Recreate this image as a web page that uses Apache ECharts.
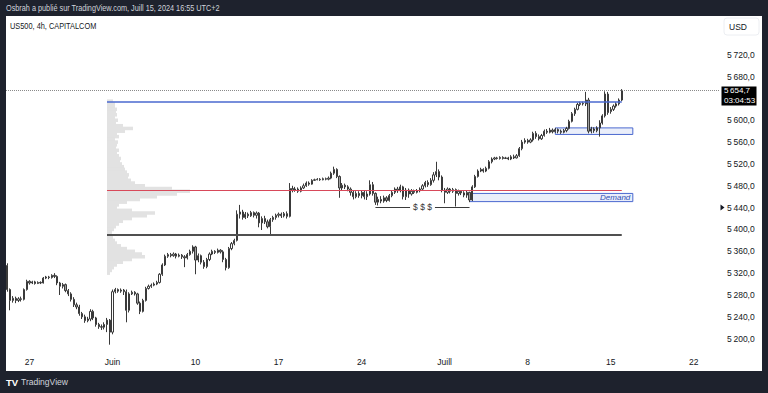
<!DOCTYPE html>
<html><head><meta charset="utf-8">
<script src="https://cdn.jsdelivr.net/npm/echarts@6/dist/echarts.min.js"></script>
<style>html,body{margin:0;padding:0;background:#1e222d;}#c{width:768px;height:393px;}</style>
</head><body><div id="c"></div>
<script>
// ---------- DATA ----------
// 4h candles, [open, close, low, high], first bar 2024-05-23 16:00
const firstBar = '2024-05-23 16:00';
const candles = [
[5334,5290,5286,5338],[5290,5270,5252,5292],[5270,5274,5266,5278],[5274,5270,5265,5277],[5270,5273,5267,5276],[5273,5272,5268,5277],[5272,5290,5270,5292],[5290,5305,5288,5308],
[5305,5302,5299,5307],[5302,5304,5300,5306],[5304,5301,5299,5306],[5301,5303,5300,5305],[5303,5302,5300,5305],[5302,5311,5301,5313],
[5311,5313,5309,5315],[5313,5312,5309,5315],[5312,5316,5310,5318],[5316,5314,5311,5320],[5314,5302,5298,5316],[5302,5296,5280,5304],
[5296,5299,5292,5302],[5299,5288,5285,5301],[5288,5282,5278,5291],[5282,5272,5268,5285],[5272,5262,5258,5276],[5262,5258,5254,5266],
[5258,5246,5242,5262],[5246,5240,5236,5249],[5240,5233,5229,5244],[5233,5236,5230,5240],[5236,5250,5232,5254],[5250,5238,5234,5253],
[5238,5226,5222,5240],[5226,5222,5218,5229],[5222,5221,5216,5226],[5221,5226,5217,5230],[5226,5234,5212,5238],[5234,5212,5189,5236],
[5212,5286,5208,5290],[5286,5290,5283,5293],[5290,5287,5284,5292],[5287,5289,5284,5292],[5289,5286,5280,5291],[5286,5252,5230,5290],
[5252,5282,5248,5285],[5282,5285,5280,5288],[5285,5282,5279,5287],[5282,5265,5262,5284],[5265,5250,5245,5268],[5250,5270,5248,5273],
[5270,5292,5268,5295],[5292,5296,5290,5299],[5296,5298,5293,5301],[5298,5300,5296,5303],[5300,5303,5298,5306],[5303,5318,5301,5320],
[5318,5335,5315,5338],[5335,5351,5333,5354],[5351,5354,5348,5357],[5354,5352,5349,5357],[5352,5355,5350,5358],[5355,5351,5347,5357],
[5351,5353,5349,5356],[5353,5350,5346,5355],[5350,5348,5331,5353],[5348,5354,5345,5357],[5354,5360,5352,5363],[5360,5368,5356,5371],
[5368,5344,5318,5370],[5344,5352,5340,5356],[5352,5340,5336,5354],[5340,5332,5328,5344],[5332,5345,5329,5348],[5345,5355,5342,5358],
[5355,5360,5353,5363],[5360,5358,5355,5362],[5358,5362,5356,5365],[5362,5359,5356,5364],[5359,5345,5340,5362],[5345,5330,5325,5348],
[5330,5365,5328,5368],[5365,5374,5362,5377],[5374,5380,5371,5383],[5380,5428,5378,5435],[5428,5432,5420,5445],[5432,5422,5418,5436],
[5422,5428,5419,5432],[5428,5425,5421,5431],[5425,5431,5423,5434],[5431,5426,5422,5433],[5426,5430,5420,5433],[5430,5412,5404,5432],
[5412,5420,5399,5424],[5420,5414,5410,5425],[5414,5405,5402,5418],[5405,5418,5391,5421],[5418,5422,5414,5425],[5422,5426,5418,5429],
[5426,5428,5422,5431],[5428,5425,5421,5431],[5425,5429,5422,5432],[5429,5424,5420,5433],[5424,5475,5422,5485],[5475,5472,5468,5480],
[5472,5474,5469,5478],[5474,5470,5467,5477],[5470,5476,5468,5479],[5476,5480,5474,5484],[5480,5485,5478,5488],[5485,5483,5480,5488],
[5483,5490,5482,5492],[5490,5491,5489,5493],[5491,5492,5490,5494],[5492,5491,5489,5494],[5491,5493,5490,5495],[5493,5492,5490,5495],
[5492,5494,5490,5497],[5494,5503,5492,5506],[5503,5510,5500,5515],[5510,5497,5494,5512],[5497,5476,5458,5499],[5476,5481,5472,5485],
[5481,5478,5474,5484],[5478,5474,5470,5481],[5474,5468,5462,5477],[5468,5460,5455,5471],[5460,5466,5457,5470],[5466,5462,5458,5470],
[5462,5468,5457,5472],[5468,5460,5455,5471],[5460,5465,5454,5470],[5465,5482,5462,5490],[5482,5466,5462,5487],[5466,5450,5445,5468],
[5450,5455,5444,5460],[5455,5452,5448,5461],[5452,5458,5449,5462],[5458,5453,5450,5461],[5453,5462,5451,5465],[5462,5468,5459,5471],
[5468,5474,5465,5477],[5474,5471,5467,5478],[5471,5478,5468,5482],[5478,5460,5455,5480],[5460,5472,5454,5476],[5472,5465,5458,5475],
[5465,5470,5462,5474],[5470,5468,5465,5473],[5468,5471,5466,5474],[5471,5474,5468,5477],[5474,5480,5472,5483],[5480,5486,5477,5489],
[5486,5482,5478,5490],[5482,5490,5480,5494],[5490,5500,5486,5505],[5500,5506,5496,5524],[5506,5496,5490,5510],[5496,5472,5468,5499],
[5472,5468,5448,5476],[5468,5474,5465,5477],[5474,5470,5466,5476],[5470,5473,5467,5476],[5473,5466,5442,5475],[5466,5470,5462,5473],
[5470,5467,5463,5472],[5467,5463,5459,5470],[5463,5468,5458,5471],[5468,5454,5450,5469],[5454,5478,5452,5481],[5478,5497,5476,5500],
[5497,5507,5495,5510],[5507,5510,5505,5513],[5510,5507,5504,5512],[5507,5512,5505,5515],[5512,5524,5510,5527],[5524,5529,5521,5532],
[5529,5531,5527,5533],[5531,5530,5528,5533],[5530,5532,5528,5534],[5532,5530,5528,5534],[5530,5531,5529,5533],[5531,5529,5527,5533],
[5529,5533,5527,5536],[5533,5531,5529,5537],[5531,5535,5530,5538],[5535,5548,5533,5551],[5548,5560,5545,5564],[5560,5563,5557,5567],
[5563,5560,5557,5566],[5560,5564,5558,5567],[5564,5576,5561,5579],[5576,5570,5566,5580],[5570,5566,5563,5574],[5566,5572,5564,5575],
[5572,5580,5570,5583],[5580,5578,5575,5584],[5578,5582,5576,5586],[5582,5579,5576,5585],[5579,5583,5577,5586],[5583,5580,5576,5585],
[5580,5578,5575,5583],[5578,5581,5576,5584],[5581,5585,5578,5588],[5585,5598,5583,5601],[5598,5612,5596,5615],[5612,5620,5608,5623],
[5620,5629,5618,5632],[5629,5631,5626,5634],[5631,5630,5627,5634],[5630,5637,5626,5652],[5637,5580,5576,5641],[5580,5584,5576,5588],
[5584,5581,5577,5587],[5581,5586,5578,5589],[5586,5595,5570,5600],[5595,5608,5592,5611],[5608,5648,5605,5653],[5648,5614,5610,5652],
[5616,5620,5612,5624],[5620,5626,5617,5629],[5626,5630,5623,5633],[5630,5637,5627,5640],[5637,5654.7,5635,5657]
];
const lastPrice = 5654.7;
const countdown = '03:04:53';
const alertPrice = 5440;

// Visible volume profile (price bucket centre, relative volume)
const profileLevels = [5635,5630,5625,5620,5615,5610,5605,5600,5595,5590,5585,5580,5575,5570,5565,5560,5555,5550,5545,5540,5535,5530,5525,5520,5515,5510,5505,5500,5495,5490,5485,5480,5475,5470,5465,5460,5455,5450,5445,5440,5435,5430,5425,5420,5415,5410,5405,5400,5395,5390,5385,5380,5375,5370,5365,5360,5355,5350,5345,5340,5335,5330,5325,5320];
const profileVolumes = [6,8,8,10,9,10,8,11,9,16,26,18,10,12,8,11,10,9,12,10,12,14,13,15,17,18,20,22,21,24,28,38,65,83,70,50,33,20,12,10,25,48,40,25,16,12,9,7,5,4,6,8,10,14,20,28,35,38,25,16,10,7,5,3];
const profileBucket = 5;

// Drawn levels
const levelNames = ['resistance','poc','support'];
const levelPrices = [5634, 5472, 5390];
const levelFrom = '2024-05-31 16:00';
const levelTo = '2024-07-15 16:00';
// Zones
const zoneNames = ['upper','Demand'];
const zoneFrom = ['2024-07-09 16:00','2024-07-02 12:00'];
const zoneTo = ['2024-07-16 08:00','2024-07-16 08:00'];
const zoneTop = [5586, 5466];
const zoneBottom = [5574, 5451];
// Liquidity line "$ $ $"
const liqText = '$ $ $';
const liqPrice = 5441;
const liqFrom = '2024-06-24 20:00';
const liqTo = '2024-07-02 12:00';

const totalBars = 258;
const barHours = [0,4,8,12,16,20];
const monthNames = ['Janv','Févr','Mars','Avr','Mai','Juin','Juill','Août','Sept','Oct','Nov','Déc'];
const yTicks = {min:5180, max:5790, step:20, labelStep:40, labelMax:5720};

// ---------- BUILD ----------
function pad(n){return (n<10?'0':'')+n;}
function isWeekday(d){const w=d.getUTCDay();return w!==0&&w!==6;}
function isFirstTradingDay(d){
  for(let k=1;k<d.getUTCDate();k++){
    const t=new Date(Date.UTC(d.getUTCFullYear(),d.getUTCMonth(),k));
    if(isWeekday(t)) return false;
  }
  return true;
}
const cats=[], catLabel=[];
let day=new Date(Date.UTC(2024,4,23));
while(cats.length<totalBars){
  if(isWeekday(day)){
    const ds=day.getUTCFullYear()+'-'+pad(day.getUTCMonth()+1)+'-'+pad(day.getUTCDate());
    for(const h of barHours){
      const key=ds+' '+pad(h)+':00';
      if(key<firstBar) continue;
      if(cats.length>=totalBars) break;
      let lab='';
      if(h===0){
        if(isFirstTradingDay(day)) lab=monthNames[day.getUTCMonth()];
        else if(day.getUTCDay()===1) lab=String(day.getUTCDate());
      }
      cats.push(key); catLabel.push(lab);
    }
  }
  day=new Date(day.getTime()+86400000);
}
function fmtPrice(v, dec){
  const s=v.toFixed(dec).replace('.',',');
  const ip=s.split(',')[0], fp=s.split(',')[1];
  return ip.slice(0,ip.length-3)+'\u2009'+ip.slice(-3)+','+fp;
}

const F = 'Liberation Sans, sans-serif';
const levelStyle = {
  resistance:{color:'#4a68cf', width:1.6},
  poc:{color:'#d8495a', width:1},
  support:{color:'#505050', width:1.8}
};
const markLineData = levelNames.map((n,i)=>[
  {coord:[levelFrom, levelPrices[i]], lineStyle:{color:levelStyle[n].color, width:levelStyle[n].width, type:'solid'}, label:{show:false}},
  {coord:[levelTo, levelPrices[i]]}
]);
markLineData.push([
  {coord:[liqFrom, liqPrice], lineStyle:{color:'#3a3a3a', width:1, type:'solid'},
   label:{show:true, position:'insideMiddle', formatter:liqText, color:'#333', fontSize:8.5,
          backgroundColor:'#ffffff', padding:[0,3], fontFamily:F}},
  {coord:[liqTo, liqPrice]}
]);
markLineData.push({yAxis:lastPrice, lineStyle:{color:'#8a8a8a', width:1, type:'dotted'}, label:{show:false}});

const markAreaData = zoneNames.map((n,i)=>[
  {coord:[zoneFrom[i], zoneTop[i]],
   itemStyle:{color:'rgba(90,120,215,0.13)', borderColor:'#4a68cf', borderWidth:1},
   label:{show:n==='Demand', position:'insideRight', formatter:n, fontStyle:'italic', color:'#2f4fb5', fontSize:8, fontFamily:F, distance:3}},
  {coord:[zoneTo[i], zoneBottom[i]]}
]);

const chart = echarts.init(document.getElementById('c'), null, {renderer:'svg', width:768, height:393});
const option = {
  backgroundColor:'#ffffff',
  animation:false,
  grid:[
    {left:6, right:48, top:16.5, bottom:43.4},
    {left:107, width:200, top:16.5, bottom:43.4}
  ],
  xAxis:[
    {type:'category', data:cats, gridIndex:0,
     axisLine:{show:false}, axisTick:{show:false}, splitLine:{show:false},
     axisLabel:{interval:(idx)=>catLabel[idx]!=='', formatter:(v,idx)=>catLabel[idx],
                color:'#131722', fontSize:8.5, margin:8, fontFamily:F}},
    {type:'value', gridIndex:1, min:0, max:200, show:false}
  ],
  yAxis:[
    {type:'value', gridIndex:0, position:'right', min:yTicks.min, max:yTicks.max, interval:yTicks.step,
     axisLine:{show:false}, axisTick:{show:false}, splitLine:{show:false},
     axisLabel:{margin:7, color:'#131722', fontSize:8.5, fontFamily:F,
       formatter:(v)=> (v%yTicks.labelStep===0 && v<=yTicks.labelMax && Math.abs(v-lastPrice)>=20) ? fmtPrice(v,1) : ''}},
    {type:'value', gridIndex:1, min:yTicks.min, max:yTicks.max, show:false}
  ],
  series:[
    {type:'custom', xAxisIndex:1, yAxisIndex:1, z:1, silent:true,
     data: profileLevels.map((p,i)=>[profileVolumes[i], p]),
     encode:{x:0, y:1},
     renderItem:(params, api)=>{
       const v=api.value(0), p=api.value(1);
       const a=api.coord([0, p+profileBucket/2]), b=api.coord([v, p-profileBucket/2]);
       return {type:'rect', shape:{x:a[0], y:a[1]-0.4, width:b[0]-a[0], height:b[1]-a[1]+0.8},
               style:{fill:'#e2e2e2'}};
     }},
    {type:'candlestick', xAxisIndex:0, yAxisIndex:0, z:3, barWidth:'62%',
     data:candles,
     itemStyle:{color:'#ffffff', color0:'#a0a0a0', borderColor:'#3a3a3a', borderColor0:'#3a3a3a', borderWidth:1},
     markLine:{symbol:['none','none'], silent:true, animation:false, data:markLineData},
     markArea:{silent:true, data:markAreaData}
    }
  ]
};
chart.setOption(option);

const yLast = chart.convertToPixel({yAxisIndex:0}, lastPrice);
const yAlert = chart.convertToPixel({yAxisIndex:0}, alertPrice);
const dark = '#1e222d';
chart.setOption({graphic:[
  {type:'rect', shape:{x:0,y:0,width:768,height:16}, style:{fill:dark}, z:100},
  {type:'rect', shape:{x:0,y:371,width:768,height:22}, style:{fill:dark}, z:100},
  {type:'rect', shape:{x:0,y:0,width:6,height:393}, style:{fill:dark}, z:100},
  {type:'rect', shape:{x:762,y:0,width:6,height:393}, style:{fill:dark}, z:100},
  {type:'text', x:6, y:8, scaleX:0.86, z:101, style:{text:'Osbrah a publié sur TradingView.com, Juill 15, 2024 16:55 UTC+2', fill:'#d1d4dc', fontSize:8.5, fontFamily:F, textVerticalAlign:'middle'}},
  {type:'text', x:10, y:26, scaleX:0.82, z:101, style:{text:'US500, 4h, CAPITALCOM', fill:'#131722', fontSize:9, fontFamily:F, textVerticalAlign:'middle'}},
  {type:'rect', shape:{x:724,y:18,width:35,height:17,r:3}, style:{fill:'#fff', stroke:'#eceef2', lineWidth:1}, z:101},
  {type:'text', x:729, y:26.5, z:102, style:{text:'USD', fill:'#131722', fontSize:8.5, fontFamily:F, textVerticalAlign:'middle'}},
  {type:'text', x:6, y:382, z:101, style:{text:'TV', fill:'#ffffff', fontSize:9.5, fontWeight:'bold', fontFamily:F, textVerticalAlign:'middle'}},
  {type:'text', x:21, y:382, scaleX:0.9, z:101, style:{text:'TradingView', fill:'#d1d4dc', fontSize:9.5, fontFamily:F, textVerticalAlign:'middle'}},
  {type:'rect', shape:{x:721.5, y:yLast-4, width:35, height:19}, style:{fill:'#000000'}, z:101},
  {type:'text', x:724, y:yLast+0.5, z:102, style:{text:fmtPrice(lastPrice,1), fill:'#ffffff', fontSize:8, fontFamily:F, textVerticalAlign:'middle'}},
  {type:'text', x:724, y:yLast+10, z:102, style:{text:countdown, fill:'#ffffff', fontSize:8, fontFamily:F, textVerticalAlign:'middle'}},
  {type:'polygon', shape:{points:[[720.5,yAlert-3],[724.5,yAlert],[720.5,yAlert+3]]}, style:{fill:'#131722'}, z:101}
]});
</script></body></html>
